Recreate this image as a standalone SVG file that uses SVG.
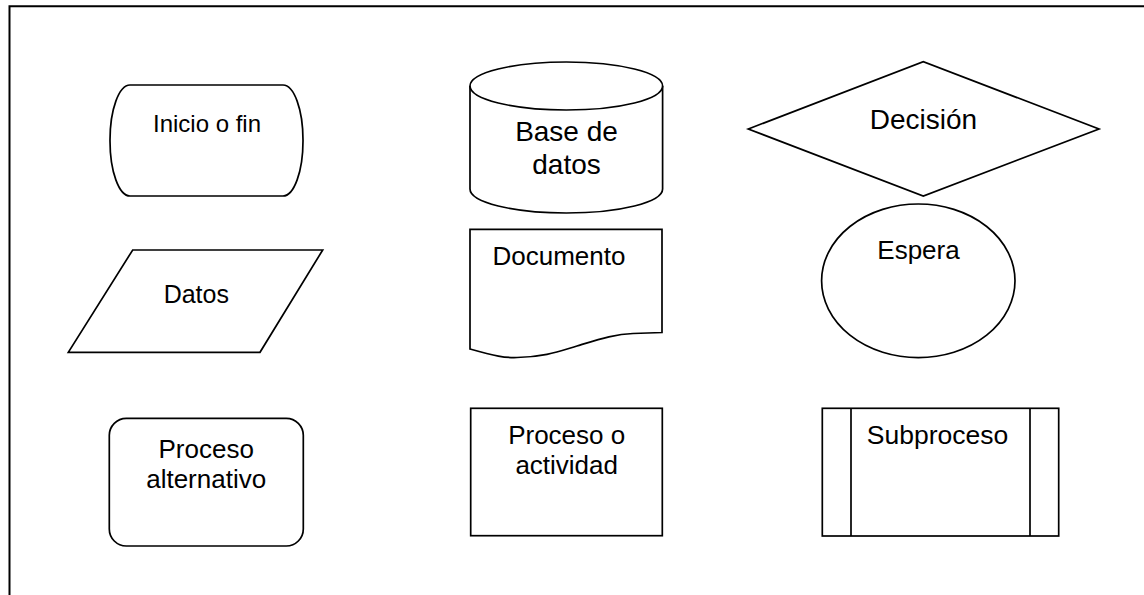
<svg xmlns="http://www.w3.org/2000/svg" width="1144" height="595" viewBox="0 0 1144 595">
  <style>
    .shape { fill: #ffffff; stroke: #000000; stroke-width: 1.7; }
    .frame { fill: none; stroke: #000000; stroke-width: 2; }
    .label { font-family: "Liberation Sans", Arial, sans-serif; fill: #000000; text-anchor: middle; }
  </style>
  <rect x="0" y="0" width="1144" height="595" fill="#ffffff"/>
  <!-- page frame, open towards right and bottom -->
  <path class="frame" d="M9.5,595 L9.5,6.2 L1144,6.2"/>

  <g id="inicio-fin">
    <rect class="shape" x="110" y="85" width="193" height="111" rx="20" ry="55"/>
    <text class="label" x="207" y="132" font-size="24">Inicio o fin</text>
  </g>

  <g id="base-datos">
    <path class="shape" d="M470,86 L470,189 A96.3,24 0 0 0 662.6,189 L662.6,86"/>
    <ellipse class="shape" cx="566.3" cy="86" rx="96.3" ry="24"/>
    <text class="label" x="566.5" y="140.5" font-size="28">Base de</text>
    <text class="label" x="566.5" y="174" font-size="28">datos</text>
  </g>

  <g id="decision">
    <polygon class="shape" points="748.3,129 923.3,61.7 1099,129 923.3,196"/>
    <text class="label" x="923.5" y="128.5" font-size="28">Decisión</text>
  </g>

  <g id="datos">
    <polygon class="shape" points="132.7,250 322.7,250 260,352.3 68.3,352.3"/>
    <text class="label" x="196.3" y="302.5" font-size="25">Datos</text>
  </g>

  <g id="documento">
    <path class="shape" d="M470,229.3 L662,229.3 L662,332.5 L633,333.5 C615,334 600,339 577,346 C560,351 545,357 517,357.5 C505,358 495,356 470,349 Z"/>
    <text class="label" x="559" y="265" font-size="26">Documento</text>
  </g>

  <g id="espera">
    <ellipse class="shape" cx="918.3" cy="280.8" rx="96.7" ry="76.8"/>
    <text class="label" x="918.5" y="259" font-size="26">Espera</text>
  </g>

  <g id="proceso-alternativo">
    <rect class="shape" x="109.3" y="418.3" width="194" height="127.7" rx="17" ry="17"/>
    <text class="label" x="206.2" y="458" font-size="26">Proceso</text>
    <text class="label" x="206.2" y="488" font-size="26">alternativo</text>
  </g>

  <g id="proceso-actividad">
    <rect class="shape" x="470.7" y="408.3" width="191.6" height="127.4"/>
    <text class="label" x="566.7" y="443.5" font-size="26">Proceso o</text>
    <text class="label" x="566.7" y="473.5" font-size="26">actividad</text>
  </g>

  <g id="subproceso">
    <rect class="shape" x="822.3" y="408.3" width="236.4" height="127.7"/>
    <line class="shape" x1="851" y1="408.3" x2="851" y2="536"/>
    <line class="shape" x1="1030" y1="408.3" x2="1030" y2="536"/>
    <text class="label" x="937.5" y="444" font-size="26.5">Subproceso</text>
  </g>

  <g id="connectors"></g>
</svg>
